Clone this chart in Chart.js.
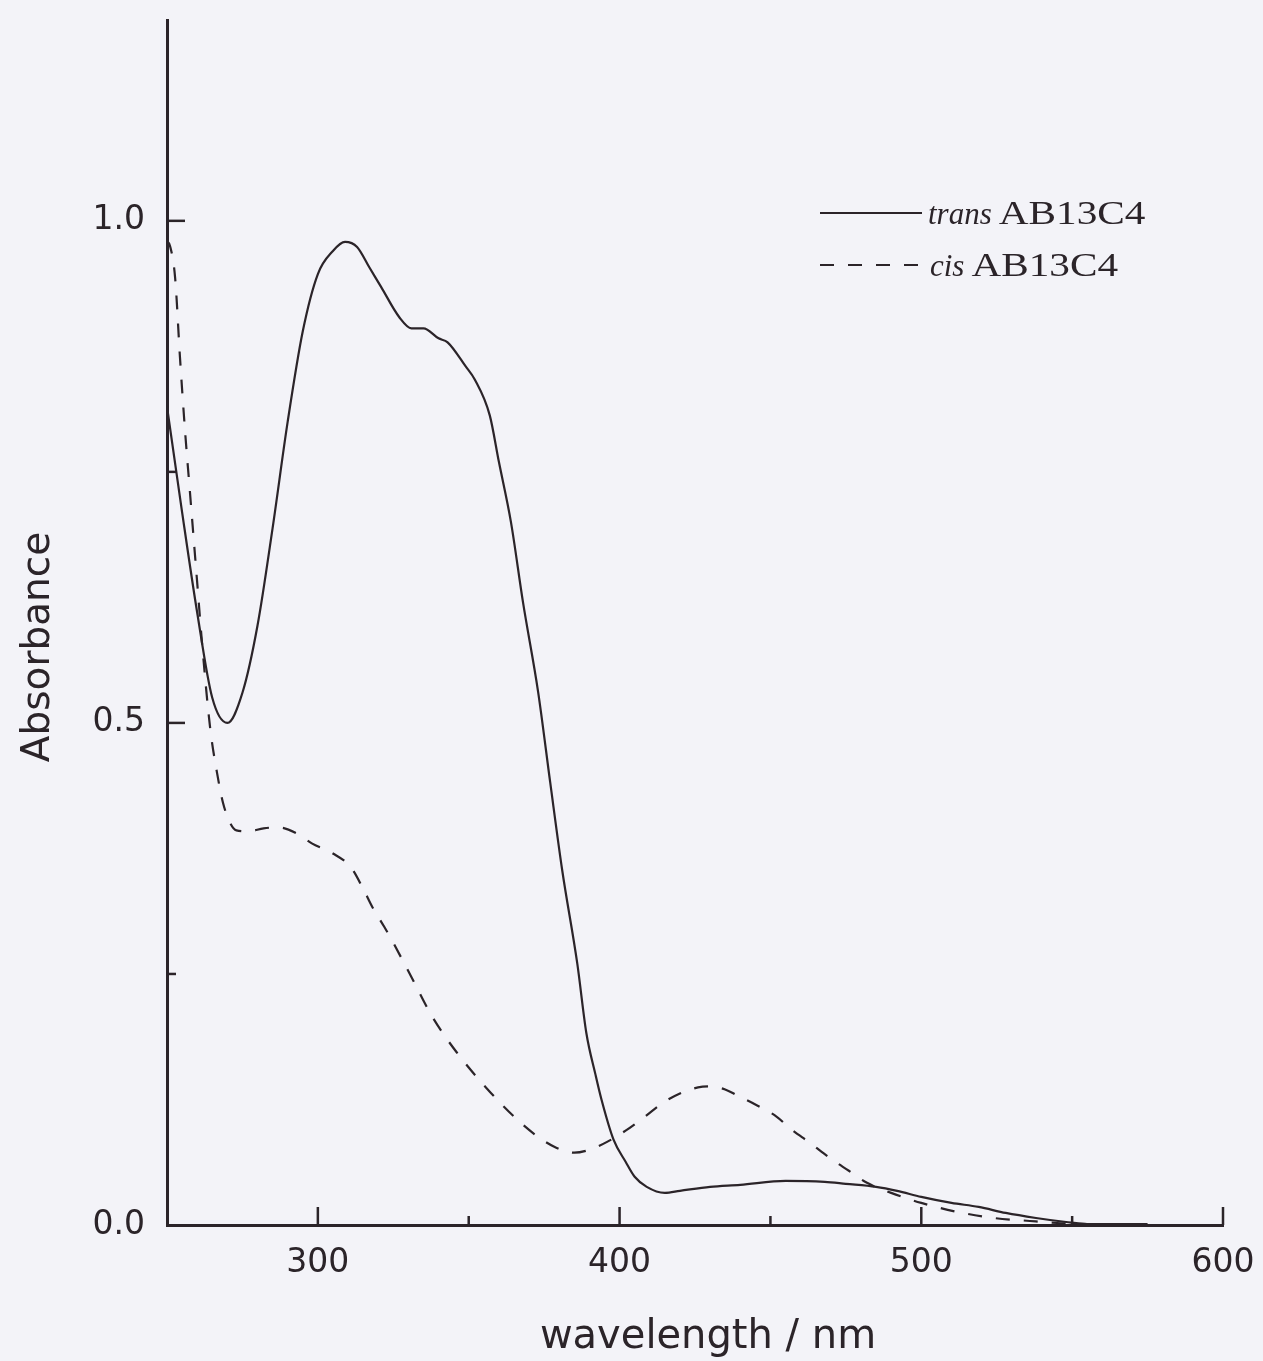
<!DOCTYPE html>
<html><head><meta charset="utf-8">
<script src="https://cdn.jsdelivr.net/npm/chart.js@4/dist/chart.umd.min.js"></script>
<style>html,body{margin:0;padding:0;background:#f3f3f8;}canvas{display:block}</style>
</head><body>
<canvas id="c" width="1263" height="1361"></canvas>
<script>
// ---- data ----
const transWavelength = [250,255,260,265,270,275,280,285,290,295,300,305,309,313,317,321,327,331,335,340,343,349,352,357,360,364,368,373,377,381,386,389,392,394,398,402,405,409,415,420,430,440,455,468,475,485,492,500,510,519,528,538,548,555,565,575];
const transAbsorbance = [0.815,0.71,0.61,0.525,0.50,0.53,0.597,0.694,0.80,0.89,0.947,0.97,0.979,0.974,0.954,0.934,0.904,0.893,0.893,0.883,0.879,0.855,0.842,0.806,0.76,0.70,0.62,0.531,0.441,0.353,0.26,0.191,0.15,0.125,0.085,0.063,0.048,0.038,0.032,0.034,0.038,0.040,0.044,0.043,0.041,0.038,0.034,0.028,0.022,0.018,0.012,0.007,0.003,0.001,0.001,0.001];
const cisWavelength = [250,251,252.7,254.3,256,257.6,260,261.6,264.3,266.6,268.6,271,273,277,282,287,293,298,305,311,315,318,322,325,331,338,346,356,365,372,379,385,391,396,402,408,414,420,426,430,435,439,445,452,457,463,470,476,482,490,500,512,524,536,545,555];
const cisAbsorbance = [0.98,0.975,0.943,0.864,0.79,0.73,0.64,0.58,0.495,0.45,0.42,0.40,0.393,0.392,0.395,0.396,0.39,0.38,0.37,0.356,0.335,0.317,0.297,0.281,0.247,0.207,0.172,0.136,0.108,0.09,0.077,0.072,0.076,0.083,0.094,0.107,0.121,0.131,0.137,0.138,0.135,0.129,0.12,0.108,0.095,0.082,0.066,0.054,0.042,0.032,0.022,0.013,0.007,0.004,0.002,0.001];

const seriesNames = ['trans', 'cis'];
const compoundName = 'AB13C4';
const xTickLabels = [300, 400, 500, 600];
const yTickLabels = [0, 0.5, 1.0];
const xMajorTicks = [300, 400, 500, 600];
const xMinorTicks = [350, 450, 550];
const yMajorTicks = [0.5, 1.0];
const yMinorTicks = [0.25, 0.75];
const xTitle = 'wavelength / nm';
const yTitle = 'Absorbance';

const INK = '#2b2429';

const toPoints = (xs, ys) => xs.map((x, i) => ({x: x, y: ys[i]}));

const decorPlugin = {
  id: 'decor',
  afterDraw(chart) {
    const ctx = chart.ctx;
    const xs = chart.scales.x, ys = chart.scales.y;
    const ca = chart.chartArea;
    ctx.save();
    ctx.strokeStyle = INK;
    ctx.lineWidth = 2.5;
    // inward ticks
    const tick = (x1, y1, x2, y2) => { ctx.beginPath(); ctx.moveTo(x1, y1); ctx.lineTo(x2, y2); ctx.stroke(); };
    xMajorTicks.forEach(v => { const p = xs.getPixelForValue(v); tick(p, ca.bottom, p, ca.bottom - 18); });
    xMinorTicks.forEach(v => { const p = xs.getPixelForValue(v); tick(p, ca.bottom, p, ca.bottom - 9); });
    yMajorTicks.forEach(v => { const p = ys.getPixelForValue(v); tick(ca.left, p, ca.left + 18, p); });
    yMinorTicks.forEach(v => { const p = ys.getPixelForValue(v); tick(ca.left, p, ca.left + 9, p); });

    // axis titles
    ctx.fillStyle = INK;
    ctx.font = '40px "DejaVu Sans"';
    ctx.textAlign = 'center';
    ctx.textBaseline = 'alphabetic';
    ctx.fillText(xTitle, 708, 1348);
    ctx.save();
    ctx.translate(49, 647);
    ctx.rotate(-Math.PI / 2);
    ctx.font = '39px "DejaVu Sans"';
    ctx.fillText(yTitle, 0, 0);
    ctx.restore();

    // legend
    ctx.textAlign = 'left';
    const rows = [
      {name: seriesNames[0], dash: [], lineY: 213, base: 224, nameX: 928},
      {name: seriesNames[1], dash: [14, 14], lineY: 265, base: 276, nameX: 930}
    ];
    rows.forEach(r => {
      ctx.setLineDash(r.dash);
      ctx.lineWidth = 2;
      ctx.beginPath(); ctx.moveTo(820, r.lineY); ctx.lineTo(922, r.lineY); ctx.stroke();
      ctx.setLineDash([]);
      ctx.font = 'italic 31px "Liberation Serif"';
      ctx.fillText(r.name, r.nameX, r.base);
      const compX = r.nameX + ctx.measureText(r.name).width + 7;
      ctx.save();
      ctx.translate(compX, r.base);
      ctx.scale(1.25, 1);
      ctx.font = '33px "Liberation Serif"';
      ctx.fillText(compoundName, 0, 0);
      ctx.restore();
    });
    ctx.restore();
  }
};

new Chart(document.getElementById('c'), {
  type: 'line',
  data: {
    datasets: [
      { label: seriesNames[0] + ' ' + compoundName, data: toPoints(transWavelength, transAbsorbance),
        borderColor: INK, borderWidth: 2.2, pointRadius: 0, fill: false, cubicInterpolationMode: 'monotone' },
      { label: seriesNames[1] + ' ' + compoundName, data: toPoints(cisWavelength, cisAbsorbance),
        borderColor: INK, borderWidth: 2.2, borderDash: [14, 14], pointRadius: 0, fill: false, cubicInterpolationMode: 'monotone' }
    ]
  },
  options: {
    responsive: false, animation: false, devicePixelRatio: 1,
    layout: {padding: {top: 20, right: 40, left: 0, bottom: 0}},
    plugins: {legend: {display: false}, tooltip: {enabled: false}, title: {display: false}},
    scales: {
      x: {
        type: 'linear', min: 250, max: 600,
        afterFit: s => { s.height = 136; s.paddingLeft = 0; s.paddingRight = 0; },
        grid: {display: false, drawTicks: false},
        border: {display: true, color: INK, width: 3},
        ticks: {stepSize: 50, autoSkip: false, maxRotation: 0, padding: 19, color: INK,
          font: {family: 'DejaVu Sans', size: 33},
          callback: v => xTickLabels.includes(v) ? String(v) : ''}
      },
      y: {
        type: 'linear', min: 0, max: 1.2,
        afterFit: s => { s.width = 167; s.paddingTop = 0; s.paddingBottom = 0; },
        grid: {display: false, drawTicks: false},
        border: {display: true, color: INK, width: 3},
        ticks: {stepSize: 0.25, autoSkip: false, padding: 22, color: INK,
          font: {family: 'DejaVu Sans', size: 33},
          callback: v => yTickLabels.includes(v) ? v.toFixed(1) : ''}
      }
    }
  },
  plugins: [decorPlugin]
});
</script>
</body></html>
